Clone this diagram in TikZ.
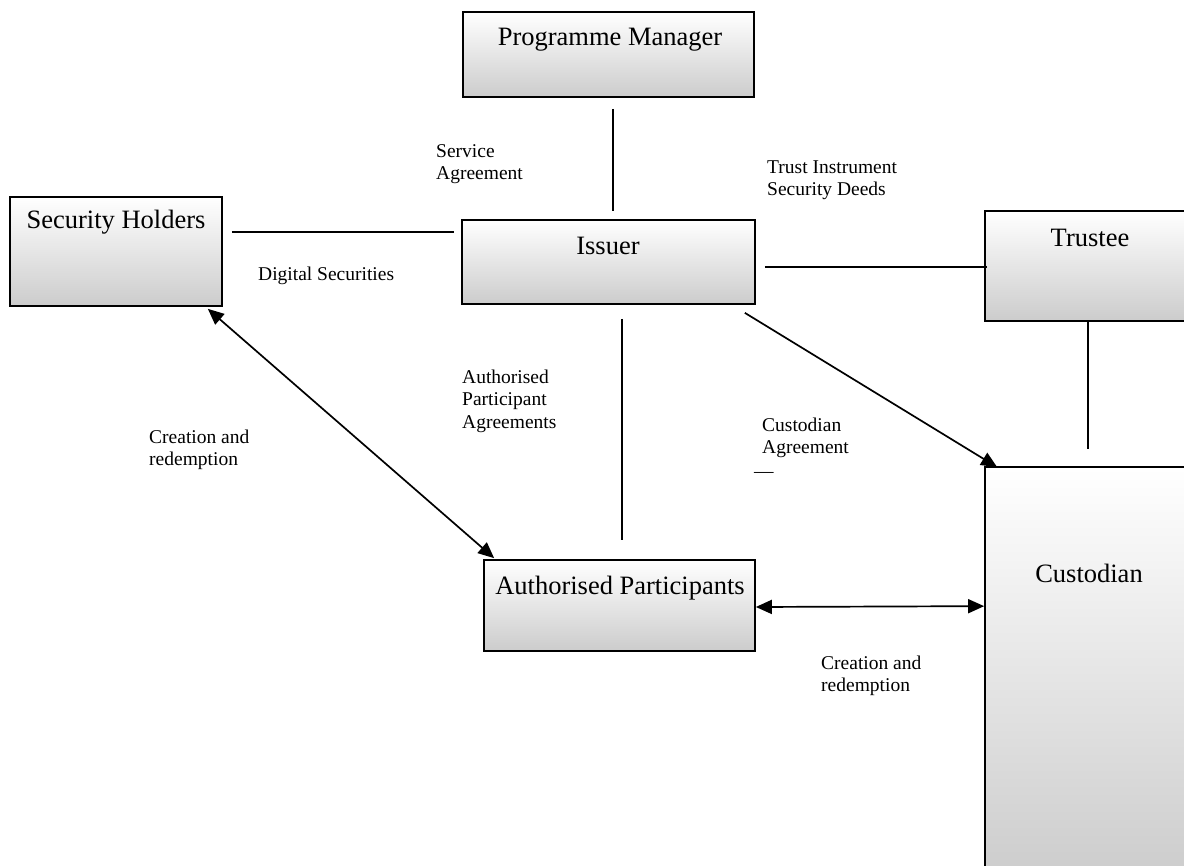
\documentclass[tikz,border=0pt]{standalone}
\usepackage{fontspec}
\setmainfont{Liberation Serif}
\usetikzlibrary{arrows.meta,calc}
\begin{document}
\begin{tikzpicture}[x=1pt,y=-1pt,
  box/.style={draw=black,line width=1.7pt,rectangle,inner sep=0pt,top color=white,bottom color=black!20},
  boxtext/.style={font=\fontsize{26.5}{30}\selectfont,inner sep=0pt},
  lab/.style={font=\fontsize{19.5}{22.5}\selectfont,align=left,anchor=west,inner sep=0pt},
  conn/.style={line width=1.7pt},
  tip/.style={-{Triangle[length=16pt,width=14pt]}},
  dtip/.style={{Triangle[length=16pt,width=14pt]}-{Triangle[length=16pt,width=14pt]}}
]
\useasboundingbox (0,0) rectangle (1184,866);
\begin{scope}
\clip (0,0) rectangle (1184,866);
% boxes
\node[box,minimum width=291pt,minimum height=85pt] (pm) at (608.5,54.5) {};
\node[box,minimum width=293pt,minimum height=84pt] (is) at (608.5,262) {};
\node[box,minimum width=212pt,minimum height=109pt] (sh) at (116,251.5) {};
\node[box,minimum width=215pt,minimum height=110pt] (tr) at (1092.5,266) {};
\node[box,minimum width=215pt,minimum height=413pt] (cu) at (1092.5,673.5) {};
\node[box,minimum width=271pt,minimum height=91pt] (ap) at (619.5,605.5) {};
\end{scope}
% box texts
\node[boxtext] (pmT) at (610,40) {Programme Manager};
\node[boxtext] (isT) at (608,246) {Issuer};
\node[boxtext] (shT) at (116,222) {Security Holders};
\node[boxtext] (trT) at (1090,238) {Trustee};
\node[boxtext] (cuT) at (1089,573) {Custodian};
\node[boxtext] (apT) at (620,588) {Authorised Participants};
% connectors
\draw[conn] ([xshift=4.5pt,yshift=-11pt]pm.south) -- ([xshift=4.5pt,yshift=8pt]is.north);
\draw[conn] ([xshift=9pt,yshift=-36pt]sh.north east) -- ([xshift=-7pt,yshift=-13pt]is.north west);
\draw[conn] ([xshift=9pt,yshift=-5pt]is.east) -- ([xshift=3pt,yshift=-1pt]tr.west);
\draw[conn] ([xshift=-4.5pt]tr.south) -- ([xshift=-4.5pt,yshift=17pt]cu.north);
\draw[conn,tip] ([xshift=-11pt,yshift=-8pt]is.south east) -- ([xshift=13pt,yshift=-1pt]cu.north west);
\draw[conn] ([xshift=13.5pt,yshift=-14pt]is.south) -- ([xshift=2.5pt,yshift=19pt]ap.north);
\draw[conn,dtip] ([xshift=-15pt,yshift=-2pt]sh.south east) -- ([xshift=11pt,yshift=1pt]ap.north west);
\draw[conn,dtip] ([yshift=-1.5pt]ap.east) -- ([yshift=-140pt]cu.north west);
% labels
\node[lab] (l1) at (436,164) {Service\\Agreement};
\node[lab] (l2) at (258,276) {Digital Securities};
\node[lab] (l3) at (767,180) {Trust Instrument\\Security Deeds};
\node[lab] (l4) at (462,401) {Authorised\\Participant\\Agreements};
\node[lab] (l5) at (762,438) {Custodian\\Agreement};
\node[lab] (l6) at (754,475) {—};
\node[lab] (l7) at (149,450) {Creation and\\redemption};
\node[lab] (l8) at (821,676) {Creation and\\redemption};
\end{tikzpicture}
\end{document}
